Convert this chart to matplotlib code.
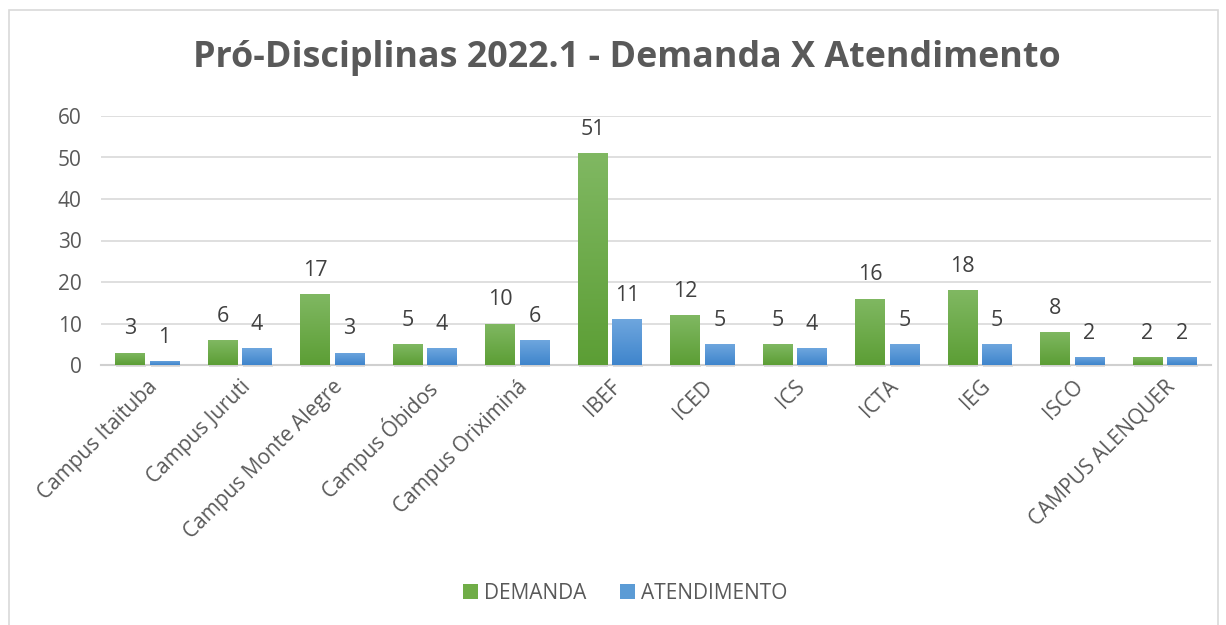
import numpy as np
import matplotlib.pyplot as plt
from matplotlib.patches import Rectangle
from matplotlib.colors import LinearSegmentedColormap

plt.rcParams['font.family'] = ['Open Sans', 'DejaVu Sans']

categorias = ['Campus Itaituba', 'Campus Juruti', 'Campus Monte Alegre', 'Campus Óbidos',
              'Campus Oriximiná', 'IBEF', 'ICED', 'ICS', 'ICTA', 'IEG', 'ISCO', 'CAMPUS ALENQUER']
demanda = [3, 6, 17, 5, 10, 51, 12, 5, 16, 18, 8, 2]
atendimento = [1, 4, 3, 4, 6, 11, 5, 4, 5, 5, 2, 2]

W, H = 1226, 625
fig = plt.figure(figsize=(W / 100, H / 100), dpi=100)
ax = fig.add_axes([101 / W, 260 / H, 1110 / W, 249 / H])

# chart border
fig.add_artist(Rectangle((9 / W, -0.05), 1209 / W, 1.05 - 10 / H, transform=fig.transFigure,
                         fill=False, edgecolor='#d9d9d9', linewidth=1.2))

x = np.arange(len(categorias))
w = 0.32
off = 0.187

verde = LinearSegmentedColormap.from_list('v', ['#5c9e35', '#80b862'])
azul = LinearSegmentedColormap.from_list('a', ['#3f85cc', '#6ea6de'])
grad = np.linspace(0, 1, 100).reshape(-1, 1)


def barras(pos, vals, cmap, cor, label):
    bs = ax.bar(pos, vals, w, color=cor, label=label, zorder=2)
    for b in bs:
        x0, y0 = b.get_x(), b.get_y()
        im = ax.imshow(grad, cmap=cmap, aspect='auto', origin='lower',
                       extent=[x0, x0 + b.get_width(), y0, y0 + b.get_height()], zorder=3)
        im.set_clip_path(b)
        # soft shadow under bar
        ax.add_patch(Rectangle((x0 + 0.01, -0.6), b.get_width(), 0.6, color='#bfbfbf',
                               alpha=0.5, zorder=1.5, clip_on=False, linewidth=0))
    for xi, v in zip(pos, vals):
        ax.annotate(str(v), (xi, v), xytext=(0, 17), textcoords='offset points',
                    ha='center', va='center', fontsize=15.5, color='#404040')
    return bs


barras(x - off, demanda, verde, '#70ad47', 'DEMANDA')
barras(x + off, atendimento, azul, '#5b9bd5', 'ATENDIMENTO')

ax.set_xlim(-0.5, len(categorias) - 0.5)
ax.set_ylim(0, 60)
ax.set_yticks(range(0, 61, 10))
ax.yaxis.grid(True, color='#d9d9d9', linewidth=1.2, zorder=0)
ax.set_axisbelow(True)
for s in ['top', 'right', 'left']:
    ax.spines[s].set_visible(False)
ax.spines['bottom'].set_color('#d0d0d0')
ax.spines['bottom'].set_linewidth(1.5)
ax.tick_params(axis='both', length=0, labelsize=15, colors='#595959')
ax.tick_params(axis='y', pad=14)
ax.tick_params(axis='x', pad=8)
ax.set_xticks(x)
ax.set_xticklabels(categorias, rotation=45, ha='right', rotation_mode='anchor')
ax.set_facecolor('none')

fig.text(0.511, 0.907, 'Pró-Disciplinas 2022.1 - Demanda X Atendimento', ha='center', va='center',
         fontsize=25.8, fontweight='bold', color='#595959')

fig.legend(loc='center', bbox_to_anchor=(0.51, 0.051), ncol=2, frameon=False, fontsize=15,
           handlelength=0.7, handleheight=0.7, handletextpad=0.3, columnspacing=1.6,
           labelcolor='#595959')

fig.savefig('out.png', dpi=100)
